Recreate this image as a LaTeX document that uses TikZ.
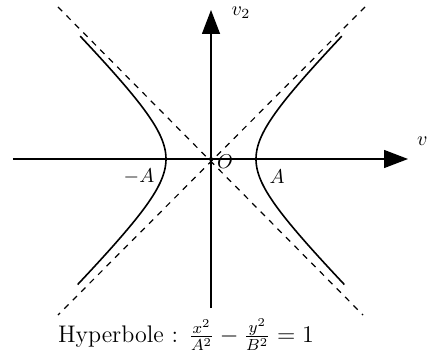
\documentclass[tikz,border=0pt]{standalone}
\usetikzlibrary{arrows.meta}
\tikzset{
    axe/.style={line width=0.7pt, -{Triangle[length=12pt,width=9pt]}},
    asymptote/.style={dashed, line width=0.6pt},
    branche/.style={line width=0.8pt}
}
\begin{document}
\begin{tikzpicture}[x=0.5pt,y=0.5pt]
    \useasboundingbox (-211,-199) rectangle (216,159);
    % axes
    \coordinate (O) at (0,0);
    \coordinate (xmin) at (-198,0);
    \coordinate (xmax) at (197,0);
    \coordinate (ymin) at (0,-149);
    \coordinate (ymax) at (0,149);
    \draw[axe] (xmin) -- (xmax);
    \draw[axe] (ymin) -- (ymax);
    \fill (O) circle (2);
    % asymptotes
    \coordinate (hg) at (-153,152);
    \coordinate (hd) at (154,152);
    \coordinate (bg) at (-153,-156);
    \coordinate (bd) at (152,-156);
    \draw[asymptote] (hg) -- (bd);
    \draw[asymptote] (hd) -- (bg);
    % branches
    \draw[branche] plot[domain=-1.75:1.73, samples=60, variable=\t]
        ({45*cosh(\t)},{45*sinh(\t)});
    \draw[branche] plot[domain=-1.75:1.73, samples=60, variable=\t]
        ({-45*cosh(\t)},{45*sinh(\t)});
    % etiquettes
    \node (v1) at (199,16) [anchor=west] {$v_1$};
    \node (v2) at (30,146) {$v_2$};
    \node (origine) at (14,-3) {$O$};
    \node (moinsA) at (-72,-18) {$-A$};
    \node (plusA) at (66,-18) {$A$};
    \node (titre) at (-25,-176) [font=\large] {Hyperbole : $\frac{x^2}{A^2}-\frac{y^2}{B^2}=1$};
\end{tikzpicture}
\end{document}
